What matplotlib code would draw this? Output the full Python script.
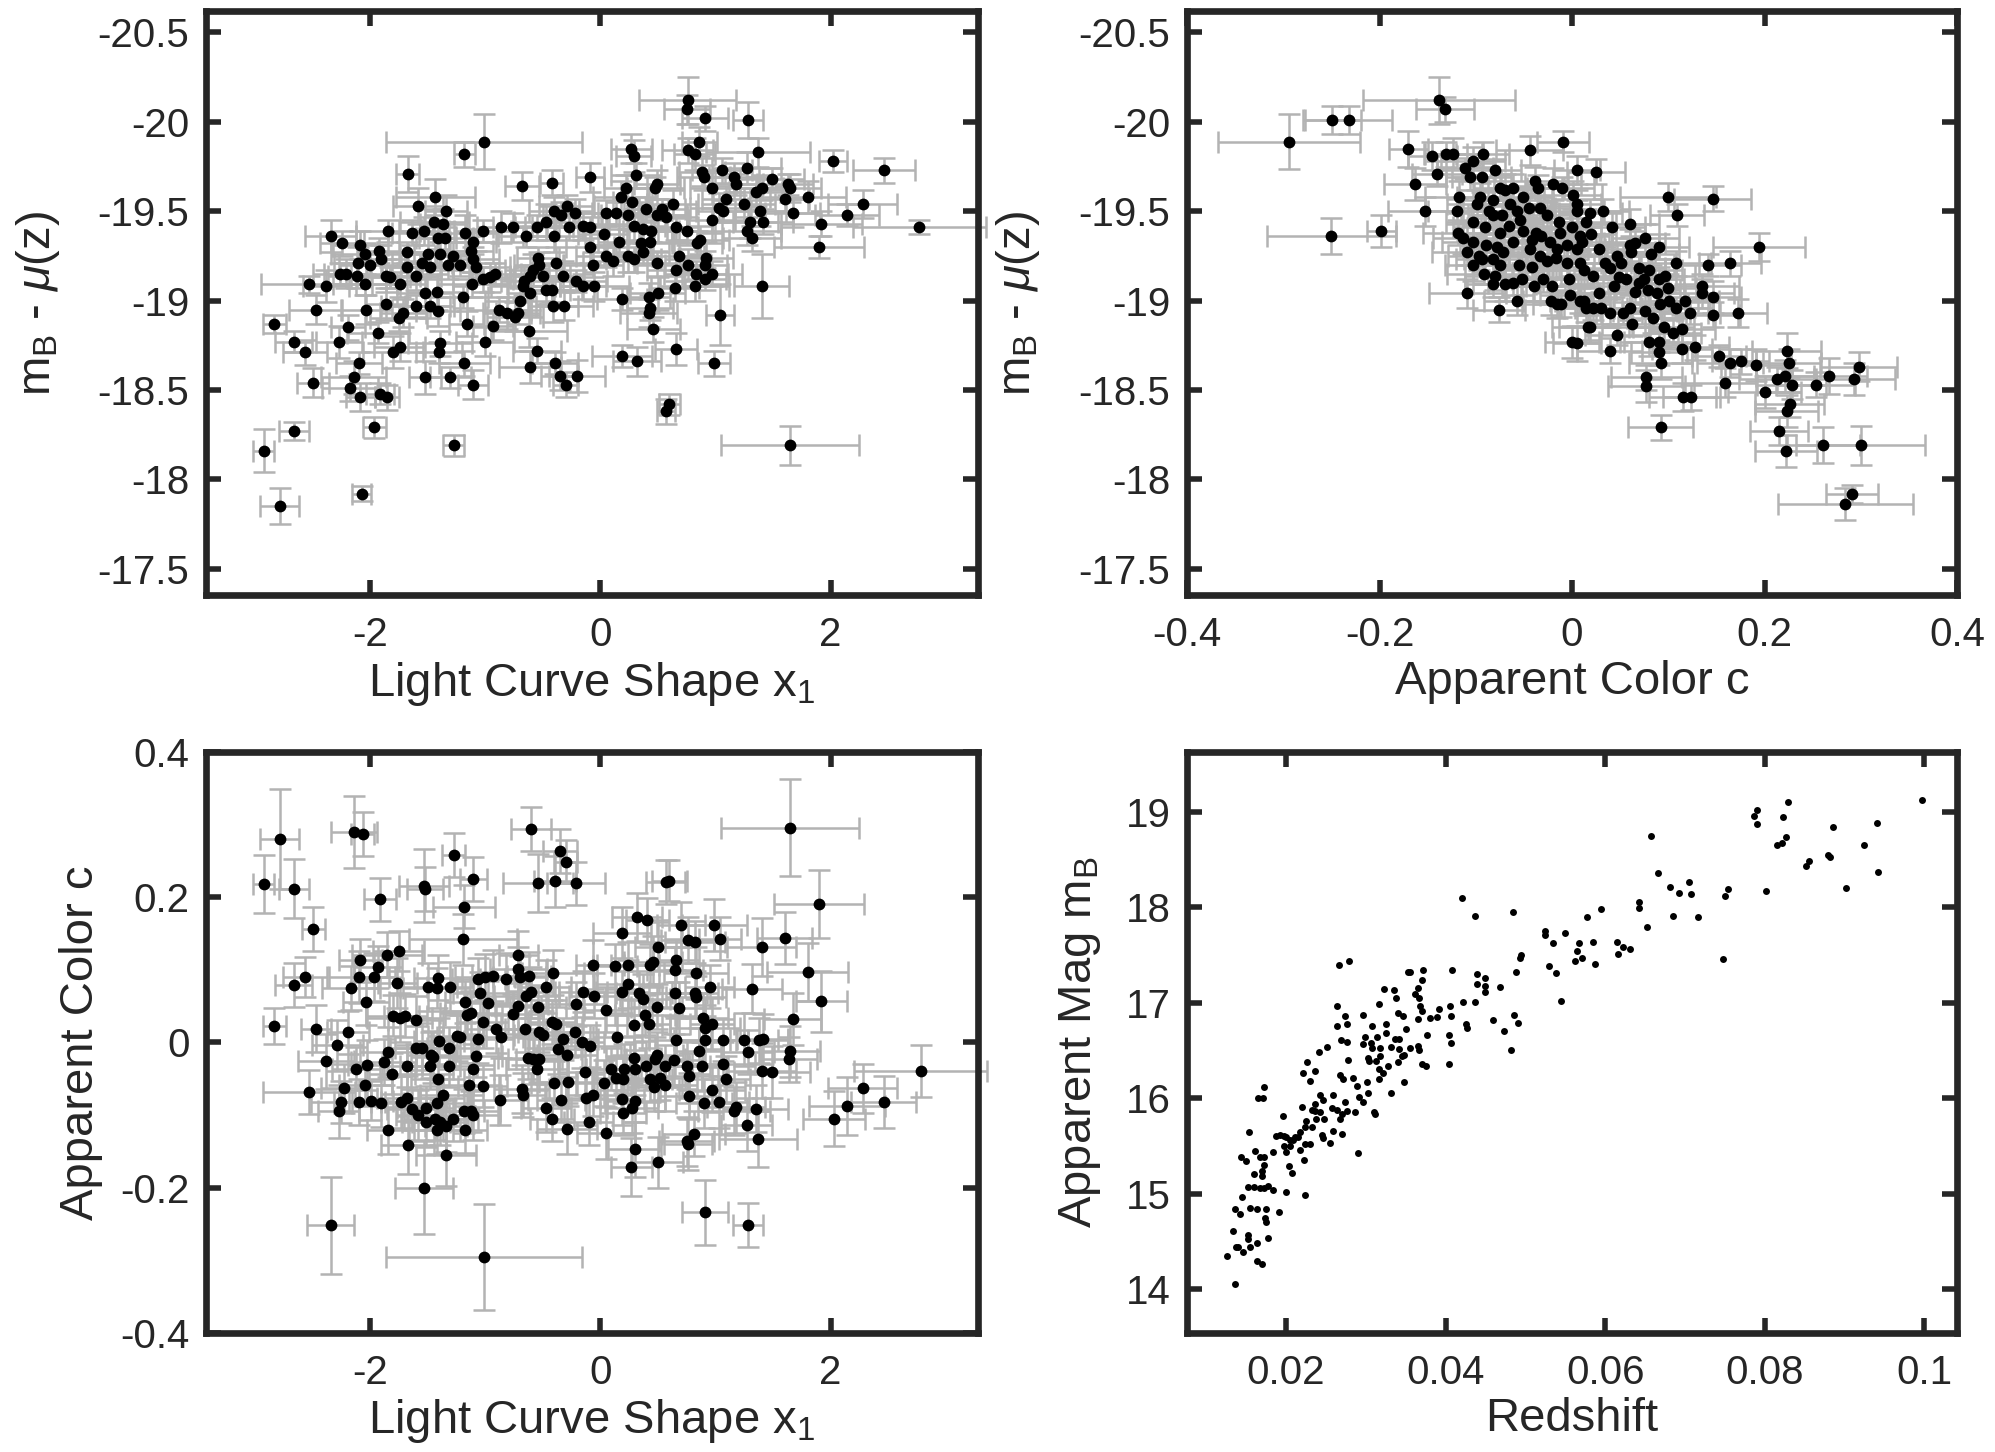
import matplotlib
matplotlib.use("Agg")
import matplotlib.pyplot as plt

plt.rcParams['font.family'] = ['Liberation Sans', 'DejaVu Sans']
plt.rcParams['mathtext.fontset'] = 'custom'
plt.rcParams['mathtext.rm'] = 'Liberation Sans'
plt.rcParams['mathtext.it'] = 'Liberation Sans:italic'
plt.rcParams['axes.unicode_minus'] = False

# ---- x1 vs Hubble residual magnitude ----
x1_a = [
    -1.01, -1.18, -1.67, -1.43, -0.68, -0.42, -0.09, -1.58, -1.34, -1.44,
    -1.36, -1.41, -1.35, -1.63, -1.53, -1.84, -2.34, -2.24, -2.08, -2.04,
    -1.92, -1.90, -1.68, -1.49, -1.39, -1.28, -1.17, -1.10, -1.02, -1.12,
    -1.10, -1.08, -1.22, -1.32, -1.48, -1.55, -1.68, -2.10, -2.00, -2.26,
    -2.21, -2.11, -1.86, -1.82, -1.60, -1.74, -2.04, -2.53, -2.38, -1.02,
    -0.96, -0.91, -1.11, -0.86, -0.76, -0.64, -0.55, -0.47, -0.40, -0.34,
    -0.29, -0.22, -0.40, -0.27, -0.15, -0.09, -0.09, -0.06, -0.05, -0.54,
    -0.53, -0.58, -0.61, -0.66, -0.67, -0.61, -0.50, -0.47, -0.42, -0.38,
    -0.32, -0.21, -0.15, -0.41, -0.31, -0.70, -0.71, -0.74, -0.81, -0.88,
    -0.93, -0.62, -1.16, -1.19, -1.41, -1.42, -1.48, -1.52, -1.60, -1.71,
    -1.75, -1.86, -2.03, -1.93, -2.19, -2.27, -2.47, -2.83, -2.66, -2.56,
    -2.49, -2.09, -2.14, -2.17, -2.08, -1.91, -1.85, -1.80, -1.74, -1.39,
    -1.40, -1.00, -1.18, -1.52, -1.30, -1.10, -0.55, -0.61, -0.39, -0.35,
    -0.30, -0.20, -1.96, -2.66, -2.92, -1.27, -2.07, -2.78,
    0.76, 0.75, 0.91, 1.28, 0.86, 0.76, 0.82, 1.37, 2.02, 2.46,
    0.27, 0.29, 0.31, 0.49, 0.48, 0.22, 0.18, 0.28, 0.05, 0.14,
    0.24, 0.40, 0.49, 0.54, 0.63, 0.57, 0.29, 0.37, 0.44, 0.66,
    0.75, 0.03, 0.16, 0.35, 0.43, 0.37, 0.05, 0.11, 0.24, 0.29,
    0.49, 0.68, 0.66, 0.76, 0.83, 0.91, 0.92, 0.97, 0.91, 0.82,
    0.65, 0.50, 0.42, 0.19, 0.43, 0.42, 0.46, 0.66, 0.19, 0.32,
    0.99, 1.04, 1.40, 0.60, 0.57, 1.65, 0.88, 0.90, 0.97, 1.06,
    1.16, 1.18, 1.27, 1.09, 1.03, 1.07, 0.97, 1.25, 1.35, 1.40,
    1.49, 1.39, 1.41, 1.30, 1.27, 1.32, 1.63, 1.65, 1.60, 1.80,
    1.67, 1.92, 2.14, 2.28, 2.77, 1.90, 0.84, 0.87,
]
mres_a = [
    -19.89, -19.82, -19.71, -19.58, -19.64, -19.66, -19.69, -19.53, -19.50, -19.44,
    -19.43, -19.35, -19.35, -19.38, -19.39, -19.39, -19.36, -19.32, -19.31, -19.26,
    -19.28, -19.23, -19.27, -19.26, -19.26, -19.25, -19.38, -19.33, -19.39, -19.28,
    -19.23, -19.19, -19.20, -19.20, -19.19, -19.21, -19.19, -19.21, -19.20, -19.15,
    -19.15, -19.14, -19.14, -19.13, -19.14, -19.09, -19.09, -19.09, -19.08, -19.12,
    -19.13, -19.15, -19.09, -19.41, -19.41, -19.36, -19.41, -19.44, -19.50, -19.48,
    -19.53, -19.49, -19.36, -19.41, -19.42, -19.41, -19.30, -19.20, -19.08, -19.24,
    -19.20, -19.17, -19.14, -19.11, -19.08, -19.04, -19.14, -19.06, -19.06, -19.21,
    -19.14, -19.11, -19.08, -18.97, -18.97, -19.00, -18.93, -18.91, -18.93, -18.95,
    -18.86, -18.83, -18.87, -19.02, -18.94, -19.05, -18.97, -19.04, -18.97, -18.93,
    -18.90, -18.98, -18.95, -18.82, -18.85, -18.77, -18.95, -18.87, -18.77, -18.71,
    -18.54, -18.65, -18.57, -18.51, -18.46, -18.48, -18.46, -18.71, -18.74, -18.76,
    -18.71, -18.77, -18.65, -18.57, -18.57, -18.53, -18.72, -18.63, -18.65, -18.58,
    -18.53, -18.58, -18.29, -18.27, -18.16, -18.19, -17.92, -17.85,
    -20.12, -20.07, -20.02, -20.01, -19.89, -19.84, -19.82, -19.83, -19.78, -19.73,
    -19.85, -19.81, -19.70, -19.65, -19.63, -19.63, -19.58, -19.55, -19.49, -19.49,
    -19.48, -19.51, -19.48, -19.51, -19.54, -19.47, -19.42, -19.40, -19.39, -19.41,
    -19.39, -19.37, -19.33, -19.32, -19.33, -19.27, -19.25, -19.22, -19.25, -19.23,
    -19.21, -19.25, -19.17, -19.20, -19.15, -19.20, -19.24, -19.15, -19.12, -19.08,
    -19.07, -19.04, -19.02, -19.01, -18.96, -18.93, -18.84, -18.73, -18.69, -18.66,
    -18.65, -18.92, -19.08, -18.42, -18.38, -18.19, -19.72, -19.69, -19.63, -19.73,
    -19.69, -19.65, -19.74, -19.57, -19.52, -19.50, -19.45, -19.54, -19.61, -19.63,
    -19.68, -19.50, -19.44, -19.44, -19.39, -19.35, -19.65, -19.63, -19.57, -19.58,
    -19.49, -19.43, -19.48, -19.54, -19.41, -19.30, -19.32, -19.34,
]
x1_a_err = [
    0.85, 0.09, 0.10, 0.34, 0.15, 0.10, 0.12, 0.22, 0.18, 0.30,
    0.20, 0.16, 0.25, 0.18, 0.22, 0.28, 0.22, 0.19, 0.24, 0.30,
    0.17, 0.21, 0.26, 0.18, 0.23, 0.15, 0.28, 0.20, 0.25, 0.19,
    0.22, 0.30, 0.17, 0.24, 0.20, 0.26, 0.18, 0.21, 0.27, 0.23,
    0.19, 0.25, 0.30, 0.17, 0.22, 0.24, 0.28, 0.41, 0.20, 0.26,
    0.18, 0.22, 0.30, 0.21, 0.17, 0.25, 0.19, 0.28, 0.22, 0.16,
    0.24, 0.20, 0.27, 0.19, 0.23, 0.15, 0.21, 0.26, 0.30, 0.18,
    0.22, 0.25, 0.17, 0.20, 0.28, 0.19, 0.24, 0.21, 0.26, 0.23,
    0.18, 0.27, 0.20, 0.22, 0.25, 0.30, 0.19, 0.24, 0.21, 0.28,
    0.17, 0.33, 0.15, 0.22, 0.19, 0.26, 0.21, 0.24, 0.30, 0.20,
    0.25, 0.18, 0.22, 0.27, 0.15, 0.20, 0.23, 0.10, 0.16, 0.19,
    0.14, 0.20, 0.28, 0.24, 0.13, 0.12, 0.10, 0.26, 0.22, 0.28,
    0.20, 0.25, 0.22, 0.14, 0.18, 0.13, 0.21, 0.27, 0.20, 0.16,
    0.11, 0.24, 0.10, 0.13, 0.09, 0.09, 0.08, 0.17,
    0.42, 0.20, 0.20, 0.13, 0.15, 0.22, 0.18, 0.45, 0.12, 0.27,
    0.18, 0.15, 0.22, 0.20, 0.25, 0.19, 0.24, 0.17, 0.28, 0.21,
    0.23, 0.19, 0.26, 0.20, 0.22, 0.18, 0.27, 0.21, 0.24, 0.19,
    0.25, 0.22, 0.18, 0.29, 0.20, 0.23, 0.26, 0.19, 0.21, 0.24,
    0.17, 0.22, 0.25, 0.20, 0.28, 0.19, 0.23, 0.26, 0.18, 0.30,
    0.21, 0.24, 0.19, 0.22, 0.20, 0.25, 0.23, 0.18, 0.26, 0.21,
    0.14, 0.12, 0.24, 0.09, 0.08, 0.60, 0.20, 0.23, 0.19, 0.26,
    0.22, 0.18, 0.30, 0.21, 0.25, 0.24, 0.20, 0.27, 0.23, 0.19,
    0.28, 0.22, 0.26, 0.24, 0.30, 0.25, 0.22, 0.27, 0.21, 0.33,
    0.24, 0.35, 0.28, 0.30, 0.58, 0.39, 0.22, 0.25,
]
mres_a_err = [
    0.155, 0.07, 0.10, 0.10, 0.08, 0.07, 0.08, 0.10, 0.09, 0.07,
    0.08, 0.06, 0.09, 0.07, 0.08, 0.06, 0.09, 0.07, 0.08, 0.06,
    0.07, 0.08, 0.06, 0.09, 0.07, 0.08, 0.10, 0.07, 0.06, 0.08,
    0.07, 0.09, 0.06, 0.08, 0.07, 0.06, 0.08, 0.09, 0.07, 0.06,
    0.08, 0.07, 0.09, 0.06, 0.08, 0.07, 0.06, 0.05, 0.09, 0.07,
    0.08, 0.06, 0.07, 0.09, 0.08, 0.06, 0.07, 0.10, 0.08, 0.07,
    0.06, 0.08, 0.09, 0.07, 0.08, 0.06, 0.09, 0.07, 0.08, 0.06,
    0.07, 0.09, 0.06, 0.08, 0.07, 0.09, 0.06, 0.08, 0.07, 0.09,
    0.08, 0.06, 0.07, 0.09, 0.08, 0.07, 0.06, 0.08, 0.09, 0.07,
    0.08, 0.09, 0.07, 0.06, 0.08, 0.10, 0.07, 0.09, 0.06, 0.08,
    0.07, 0.09, 0.08, 0.06, 0.07, 0.09, 0.08, 0.05, 0.06, 0.07,
    0.08, 0.06, 0.09, 0.07, 0.08, 0.06, 0.07, 0.09, 0.08, 0.07,
    0.06, 0.08, 0.07, 0.09, 0.06, 0.08, 0.07, 0.09, 0.06, 0.08,
    0.07, 0.09, 0.06, 0.05, 0.12, 0.06, 0.04, 0.10,
    0.13, 0.08, 0.07, 0.10, 0.08, 0.07, 0.09, 0.08, 0.06, 0.07,
    0.08, 0.09, 0.07, 0.08, 0.06, 0.07, 0.09, 0.08, 0.07, 0.06,
    0.08, 0.07, 0.09, 0.06, 0.08, 0.07, 0.09, 0.08, 0.06, 0.07,
    0.08, 0.06, 0.07, 0.09, 0.08, 0.07, 0.06, 0.08, 0.09, 0.07,
    0.07, 0.08, 0.06, 0.09, 0.07, 0.08, 0.09, 0.07, 0.06, 0.08,
    0.07, 0.09, 0.08, 0.06, 0.07, 0.08, 0.07, 0.09, 0.06, 0.08,
    0.07, 0.17, 0.18, 0.06, 0.07, 0.11, 0.08, 0.07, 0.09, 0.07,
    0.08, 0.06, 0.09, 0.07, 0.08, 0.06, 0.07, 0.09, 0.08, 0.07,
    0.06, 0.08, 0.07, 0.09, 0.08, 0.07, 0.06, 0.08, 0.07, 0.09,
    0.08, 0.07, 0.06, 0.08, 0.04, 0.06, 0.07, 0.08,
]

# ---- colour vs Hubble residual magnitude ----
c_b = [
    -0.138, -0.132, -0.249, -0.232, -0.294, -0.250, -0.198, -0.170, -0.145, -0.131,
    -0.124, -0.093, -0.044, -0.009, 0.005, -0.163, -0.140, -0.153, -0.111, -0.103,
    -0.106, -0.094, -0.080, -0.117, -0.120, -0.096, -0.082, -0.075, -0.070, -0.061,
    -0.051, -0.039, -0.035, -0.020, -0.010, 0.005, -0.118, -0.113, -0.103, -0.090,
    -0.082, -0.073, -0.064, -0.057, -0.045, -0.033, -0.026, -0.014, 0.000, 0.005,
    -0.109, -0.103, -0.097, -0.089, -0.078, -0.082, -0.072, -0.092, -0.080, -0.082,
    -0.070, -0.061, -0.055, -0.061, -0.051, -0.042, -0.037, -0.032, -0.023, -0.013,
    -0.042, -0.033, -0.026, -0.017, -0.005, 0.005, -0.030, -0.021, -0.016, -0.011,
    -0.109, -0.076, 0.000, 0.005, 0.017, 0.015, 0.008, 0.008, 0.008,
    0.025, 0.100, 0.146, 0.109, 0.019, 0.032, 0.041, 0.060, 0.020, 0.010,
    0.012, 0.022, 0.034, 0.039, 0.047, 0.051, 0.049, 0.056, 0.061, 0.065,
    0.076, 0.082, 0.090, 0.070, 0.080, 0.070, 0.065, 0.079, 0.090, 0.097,
    0.108, 0.100, 0.028, 0.030, 0.022, 0.039, 0.053, 0.060, 0.076, 0.091,
    0.101, 0.108, 0.084, 0.095, 0.105, 0.114, 0.123, 0.135, 0.135, 0.146,
    0.146, 0.172, 0.141, 0.164, 0.194, 0.019, 0.039, 0.080, 0.090, 0.090,
    0.092, 0.114, 0.128, 0.153, 0.164, 0.175, 0.191, 0.159, 0.077, 0.077,
    0.115, 0.124, 0.200, 0.223, 0.225, 0.213, 0.221, 0.228, 0.253, 0.267,
    0.293, 0.298, 0.226, 0.223, 0.215, 0.222, 0.261, 0.300, 0.092, 0.291,
    0.284,
    -0.099, -0.086, -0.075, -0.066, -0.054, -0.044, -0.052, -0.040, -0.005, -0.003,
    -0.022, -0.103, -0.094, -0.057, -0.002, -0.075, -0.016, 0.001,
    0.014, 0.028, 0.044, 0.060, 0.075, 0.088, 0.117, 0.062, 0.012, 0.047,
]
mres_b = [
    -20.12, -20.07, -20.01, -20.01, -19.89, -19.36, -19.39, -19.85, -19.81, -19.82,
    -19.82, -19.82, -19.84, -19.89, -19.73, -19.65, -19.71, -19.50, -19.74, -19.78,
    -19.69, -19.69, -19.73, -19.58, -19.50, -19.58, -19.56, -19.63, -19.62, -19.63,
    -19.58, -19.67, -19.63, -19.65, -19.63, -19.54, -19.38, -19.35, -19.44, -19.41,
    -19.48, -19.48, -19.54, -19.50, -19.52, -19.52, -19.48, -19.44, -19.41, -19.50,
    -19.27, -19.20, -19.25, -19.31, -19.30, -19.23, -19.27, -19.15, -19.14, -19.09,
    -19.09, -19.10, -19.20, -19.33, -19.39, -19.34, -19.38, -19.36, -19.33, -19.38,
    -19.19, -19.25, -19.22, -19.24, -19.21, -19.29, -19.12, -19.08, -18.98, -18.98,
    -19.04, -18.95, -18.77, -18.76, -18.85, -18.96, -19.21, -19.36, -19.00,
    -19.72, -19.58, -19.57, -19.48, -19.49, -19.50, -19.41, -19.43, -19.37, -19.33,
    -19.17, -19.14, -19.21, -19.18, -19.25, -19.21, -19.13, -19.12, -19.27, -19.32,
    -19.35, -19.26, -19.30, -19.18, -19.17, -19.10, -19.05, -19.06, -19.12, -19.14,
    -19.21, -19.07, -19.04, -18.96, -18.96, -18.93, -18.93, -18.96, -18.94, -18.98,
    -19.00, -18.96, -18.90, -18.85, -18.82, -18.84, -18.93, -19.08, -19.04, -19.02,
    -18.92, -18.93, -19.20, -19.21, -19.30, -18.85, -18.72, -18.77, -18.77, -18.71,
    -18.65, -18.73, -18.74, -18.69, -18.65, -18.66, -18.64, -18.54, -18.57, -18.52,
    -18.46, -18.46, -18.49, -18.72, -18.65, -18.56, -18.58, -18.53, -18.53, -18.58,
    -18.56, -18.63, -18.42, -18.38, -18.27, -18.16, -18.19, -18.19, -18.29, -17.92,
    -17.86,
    -19.54, -19.50, -19.38, -19.42, -19.45, -19.29, -19.12, -19.08, -19.31, -19.12,
    -19.00, -19.33, -19.23, -19.00, -19.03, -19.20, -19.29, -19.59,
    -19.44, -19.29, -19.08, -19.31, -19.12, -19.04, -19.00, -18.87, -19.00, -18.81,
]
c_b_err = [
    0.079, 0.030, 0.030, 0.045, 0.074, 0.067, 0.015, 0.020, 0.025, 0.022,
    0.030, 0.028, 0.035, 0.027, 0.024, 0.032, 0.026, 0.038, 0.029, 0.033,
    0.025, 0.031, 0.027, 0.036, 0.030, 0.024, 0.034, 0.028, 0.032, 0.026,
    0.030, 0.035, 0.027, 0.029, 0.033, 0.025, 0.037, 0.031, 0.028, 0.034,
    0.026, 0.032, 0.029, 0.035, 0.027, 0.031, 0.024, 0.033, 0.030, 0.028,
    0.036, 0.029, 0.032, 0.027, 0.034, 0.030, 0.025, 0.038, 0.031, 0.029,
    0.033, 0.026, 0.035, 0.030, 0.028, 0.032, 0.027, 0.034, 0.029, 0.031,
    0.028, 0.033, 0.030, 0.026, 0.035, 0.029, 0.032, 0.027, 0.036, 0.030,
    0.040, 0.027, 0.028, 0.025, 0.031, 0.029, 0.033, 0.030, 0.026,
    0.030, 0.050, 0.040, 0.028, 0.033, 0.027, 0.035, 0.030, 0.026, 0.032,
    0.029, 0.034, 0.027, 0.031, 0.036, 0.028, 0.033, 0.030, 0.025, 0.032,
    0.035, 0.029, 0.031, 0.027, 0.034, 0.030, 0.028, 0.033, 0.026, 0.031,
    0.036, 0.029, 0.032, 0.027, 0.030, 0.034, 0.028, 0.031, 0.033, 0.029,
    0.030, 0.035, 0.027, 0.032, 0.029, 0.034, 0.031, 0.038, 0.033, 0.030,
    0.028, 0.031, 0.035, 0.032, 0.048, 0.040, 0.034, 0.030, 0.036, 0.029,
    0.033, 0.031, 0.035, 0.028, 0.034, 0.030, 0.036, 0.032, 0.037, 0.040,
    0.035, 0.030, 0.038, 0.036, 0.034, 0.040, 0.030, 0.036, 0.041, 0.039,
    0.042, 0.040, 0.036, 0.033, 0.030, 0.032, 0.038, 0.067, 0.034, 0.027,
    0.070,
    0.031, 0.027, 0.034, 0.029, 0.032, 0.036, 0.028, 0.033, 0.030, 0.035,
    0.029, 0.032, 0.027, 0.034, 0.031, 0.028, 0.033, 0.030,
    0.032, 0.029, 0.035, 0.030, 0.033, 0.028, 0.036, 0.031, 0.027, 0.034,
]
mres_b_err = [
    0.13, 0.07, 0.08, 0.08, 0.155, 0.10, 0.09, 0.10, 0.08, 0.07,
    0.09, 0.07, 0.08, 0.06, 0.08, 0.09, 0.07, 0.08, 0.06, 0.08,
    0.07, 0.08, 0.06, 0.09, 0.07, 0.08, 0.06, 0.07, 0.09, 0.08,
    0.06, 0.08, 0.07, 0.09, 0.06, 0.08, 0.07, 0.09, 0.08, 0.07,
    0.08, 0.06, 0.09, 0.07, 0.08, 0.06, 0.07, 0.09, 0.08, 0.06,
    0.07, 0.09, 0.08, 0.06, 0.07, 0.08, 0.09, 0.06, 0.08, 0.07,
    0.09, 0.07, 0.06, 0.08, 0.07, 0.09, 0.08, 0.06, 0.07, 0.08,
    0.06, 0.08, 0.09, 0.07, 0.08, 0.06, 0.07, 0.09, 0.08, 0.07,
    0.08, 0.07, 0.09, 0.10, 0.07, 0.08, 0.06, 0.08, 0.07,
    0.07, 0.08, 0.07, 0.06, 0.08, 0.07, 0.09, 0.08, 0.06, 0.07,
    0.08, 0.07, 0.09, 0.06, 0.08, 0.07, 0.06, 0.08, 0.09, 0.07,
    0.08, 0.06, 0.07, 0.09, 0.08, 0.07, 0.06, 0.08, 0.07, 0.09,
    0.07, 0.08, 0.06, 0.09, 0.07, 0.08, 0.06, 0.07, 0.09, 0.08,
    0.07, 0.06, 0.08, 0.09, 0.07, 0.08, 0.06, 0.07, 0.08, 0.09,
    0.07, 0.08, 0.06, 0.07, 0.08, 0.09, 0.07, 0.08, 0.06, 0.07,
    0.09, 0.08, 0.07, 0.06, 0.08, 0.07, 0.09, 0.08, 0.07, 0.09,
    0.08, 0.07, 0.09, 0.10, 0.08, 0.07, 0.09, 0.08, 0.07, 0.10,
    0.09, 0.08, 0.07, 0.09, 0.08, 0.09, 0.10, 0.11, 0.07, 0.05,
    0.09,
    0.08, 0.07, 0.09, 0.06, 0.08, 0.07, 0.09, 0.08, 0.06, 0.07,
    0.08, 0.09, 0.07, 0.08, 0.06, 0.07, 0.09, 0.08,
    0.07, 0.08, 0.06, 0.09, 0.07, 0.08, 0.09, 0.07, 0.08, 0.06,
]

# ---- x1 vs colour ----
x1_c = [
    -2.78, -2.14, -2.06, -2.92, -2.66, -2.49, -1.91, -1.53, -1.52, -1.27,
    -1.10, -1.18, -1.19, -0.60, -0.35, -0.30, -0.54, -0.39, -0.21, -2.83,
    -2.66, -2.56, -2.47, -2.28, -2.19, -2.38, -2.53, -2.22, -2.25, -2.27,
    -2.09, -1.99, -1.90, -2.12, -2.02, -2.04, -1.88, -1.81, -1.84, -2.08,
    -2.09, -1.93, -1.96, -1.85, -1.75, -1.76, -2.16, -2.03, -1.80, -1.74,
    -1.69, -1.60, -1.68, -1.73, -1.68, -1.63, -1.58, -1.51, -1.51, -1.84,
    -1.67, -1.43, -1.42, -1.39, -1.34, -1.28, -1.34, -1.17, -1.12, -1.10,
    -1.18, -1.42, -1.36, -1.41, -1.48, -1.45, -1.31, -1.47, -1.60, -1.55,
    -1.40, -1.31, -1.24, -1.22, -1.06, -1.08, -1.10, -1.14, -1.02, -0.87,
    -1.16, -1.12, -1.02, -1.17, -1.49, -1.41, -1.42, -1.30, -1.06, -1.00,
    -0.93, -1.04, -0.97, -0.90, -0.86, -0.82, -0.76, -0.71, -0.71, -0.71,
    -0.70, -0.62, -0.64, -0.60, -0.54, -0.65, -0.63, -0.58, -0.53, -0.55,
    -0.68, -0.67, -0.47, -0.41, -0.53, -0.50, -0.42, -0.38, -0.32, -0.37,
    -0.29, -0.22, -0.21, -0.15, -0.06, -0.05, -0.16, -0.09, -0.13, -0.40,
    -0.28, -0.34, -0.12, -0.06, -0.47, -0.42, -0.29, -0.10, -1.53, -2.34,
    -1.01,
    1.65, 1.90, 0.57, 0.60, 0.32, 0.41, 0.19, 0.70, 0.99, 1.04,
    0.76, 0.82, 0.50, 1.40, 1.60, 0.13, 0.24, 0.43, 0.46, 0.66,
    0.65, 0.83, 1.80, 0.95, 1.32, 1.92, 1.67, 0.05, 0.19, 0.24,
    0.34, 0.37, 0.49, 0.39, 0.42, 0.29, 0.15, 0.65, 0.68, 0.82,
    0.83, 0.89, 0.91, 0.97, 0.66, 0.91, 1.07, 1.25, 1.38, 1.41,
    1.28, 0.86, 1.65, 1.64, 0.09, 0.21, 0.14, 0.20, 0.30, 0.29,
    0.40, 0.48, 0.49, 0.56, 0.64, 0.43, 0.47, 0.52, 0.56, 0.75,
    0.77, 0.88, 1.07, 1.09, 1.40, 1.49, 0.03, 0.19, 0.30, 0.28,
    0.20, 0.05, 0.30, 0.27, 0.50, 0.77, 0.90, 0.97, 1.03, 1.16,
    1.18, 1.35, 1.27, 1.37, 0.75, 0.76, 0.81, 0.91, 1.28, 2.78,
    2.28, 2.46, 2.14, 2.03,
]
c_c = [
    0.280, 0.290, 0.287, 0.218, 0.212, 0.156, 0.197, 0.216, 0.211, 0.258,
    0.225, 0.187, 0.142, 0.294, 0.264, 0.249, 0.220, 0.222, 0.219, 0.023,
    0.079, 0.090, 0.019, -0.004, 0.014, -0.026, -0.068, -0.063, -0.082, -0.095,
    -0.082, -0.080, -0.084, -0.036, -0.031, -0.059, -0.027, -0.043, -0.013, 0.113,
    0.090, 0.104, 0.090, 0.121, 0.126, 0.082, 0.075, 0.056, 0.037, 0.034,
    0.037, 0.031, -0.033, -0.082, -0.077, -0.092, -0.100, -0.090, -0.110, -0.121,
    -0.141, -0.105, -0.120, -0.110, -0.115, -0.106, -0.155, -0.120, -0.095, -0.100,
    -0.094, -0.084, -0.072, -0.051, -0.033, -0.020, -0.033, -0.017, -0.008, -0.008,
    0.002, -0.008, 0.009, 0.008, 0.005, -0.019, -0.037, -0.059, -0.060, -0.079,
    0.038, 0.041, 0.028, 0.056, 0.077, 0.089, 0.075, 0.077, 0.087, 0.090,
    0.092, 0.068, 0.054, 0.018, 0.008, 0.087, 0.039, 0.050, 0.120, 0.101,
    0.090, 0.092, 0.064, 0.069, 0.049, 0.019, -0.022, -0.023, -0.023, -0.036,
    -0.064, -0.072, 0.077, 0.096, 0.015, 0.010, 0.028, 0.026, 0.005, -0.009,
    -0.017, 0.015, 0.053, 0.070, 0.107, 0.064, 0.000, -0.005, -0.041, -0.056,
    -0.054, -0.079, -0.077, -0.072, -0.090, -0.106, -0.119, -0.109, -0.200, -0.252,
    -0.296,
    0.296, 0.191, 0.221, 0.223, 0.173, 0.169, 0.151, 0.162, 0.162, 0.143,
    0.141, 0.138, 0.132, 0.132, 0.144, 0.105, 0.106, 0.107, 0.111, 0.113,
    0.100, 0.096, 0.097, 0.077, 0.074, 0.057, 0.032, 0.045, 0.070, 0.080,
    0.068, 0.060, 0.049, 0.038, 0.026, 0.024, 0.008, 0.068, 0.047, 0.068,
    0.063, 0.034, 0.020, 0.026, 0.004, 0.003, 0.003, 0.004, 0.003, 0.005,
    -0.013, -0.012, -0.012, -0.023, -0.037, -0.036, -0.049, -0.050, -0.036, -0.022,
    -0.032, -0.023, -0.017, -0.032, -0.024, -0.051, -0.061, -0.049, -0.058, -0.032,
    -0.046, -0.033, -0.029, -0.051, -0.039, -0.041, -0.056, -0.078, -0.080, -0.090,
    -0.097, -0.125, -0.147, -0.172, -0.165, -0.074, -0.084, -0.065, -0.082, -0.095,
    -0.089, -0.091, -0.113, -0.133, -0.136, -0.140, -0.126, -0.234, -0.251, -0.039,
    -0.063, -0.082, -0.087, -0.105,
]
x1_c_err = [
    0.17, 0.20, 0.10, 0.09, 0.13, 0.10, 0.14, 0.22, 0.16, 0.10,
    0.12, 0.27, 0.47, 0.17, 0.15, 0.10, 0.30, 0.18, 0.25, 0.10,
    0.16, 0.19, 0.13, 0.22, 0.18, 0.24, 0.40, 0.20, 0.26, 0.18,
    0.22, 0.19, 0.25, 0.21, 0.17, 0.23, 0.28, 0.20, 0.24, 0.19,
    0.26, 0.21, 0.18, 0.30, 0.22, 0.17, 0.25, 0.20, 0.23, 0.28,
    0.19, 0.24, 0.21, 0.17, 0.26, 0.22, 0.19, 0.25, 0.21, 0.18,
    0.23, 0.27, 0.20, 0.24, 0.18, 0.22, 0.26, 0.19, 0.25, 0.21,
    0.17, 0.28, 0.20, 0.23, 0.26, 0.19, 0.24, 0.21, 0.18, 0.27,
    0.22, 0.19, 0.25, 0.20, 0.30, 0.23, 0.18, 0.26, 0.21, 0.24,
    0.19, 0.27, 0.22, 0.18, 0.25, 0.21, 0.29, 0.20, 0.23, 0.26,
    0.18, 0.24, 0.21, 0.27, 0.19, 0.22, 0.26, 0.20, 0.17, 0.25,
    0.23, 0.19, 0.28, 0.21, 0.24, 0.18, 0.26, 0.22, 0.20, 0.27,
    0.24, 0.19, 0.22, 0.27, 0.18, 0.25, 0.21, 0.23, 0.30, 0.20,
    0.26, 0.18, 0.24, 0.21, 0.15, 0.22, 0.19, 0.27, 0.23, 0.20,
    0.25, 0.21, 0.18, 0.24, 0.22, 0.19, 0.26, 0.21, 0.25, 0.20,
    0.85,
    0.60, 0.39, 0.17, 0.15, 0.22, 0.19, 0.25, 0.21, 0.28, 0.18,
    0.23, 0.26, 0.20, 0.30, 0.24, 0.19, 0.27, 0.22, 0.25, 0.20,
    0.24, 0.28, 0.35, 0.21, 0.26, 0.22, 0.25, 0.19, 0.23, 0.27,
    0.20, 0.24, 0.22, 0.26, 0.19, 0.25, 0.21, 0.28, 0.23, 0.20,
    0.26, 0.22, 0.30, 0.19, 0.24, 0.27, 0.21, 0.29, 0.25, 0.22,
    0.23, 0.20, 0.26, 0.24, 0.21, 0.25, 0.19, 0.27, 0.22, 0.24,
    0.20, 0.26, 0.23, 0.21, 0.25, 0.19, 0.24, 0.22, 0.28, 0.20,
    0.25, 0.23, 0.27, 0.21, 0.30, 0.33, 0.24, 0.19, 0.26, 0.22,
    0.20, 0.25, 0.23, 0.18, 0.22, 0.27, 0.24, 0.29, 0.26, 0.31,
    0.25, 0.28, 0.22, 0.34, 0.24, 0.21, 0.27, 0.20, 0.13, 0.58,
    0.30, 0.28, 0.33, 0.27,
]
c_c_err = [
    0.069, 0.050, 0.030, 0.040, 0.040, 0.030, 0.030, 0.050, 0.030, 0.030,
    0.030, 0.030, 0.035, 0.030, 0.030, 0.030, 0.040, 0.035, 0.030, 0.025,
    0.030, 0.028, 0.032, 0.035, 0.030, 0.038, 0.030, 0.034, 0.029, 0.036,
    0.031, 0.027, 0.033, 0.030, 0.035, 0.029, 0.032, 0.028, 0.034, 0.030,
    0.036, 0.029, 0.033, 0.031, 0.027, 0.035, 0.030, 0.032, 0.028, 0.034,
    0.030, 0.033, 0.029, 0.036, 0.031, 0.028, 0.035, 0.030, 0.034, 0.032,
    0.040, 0.029, 0.033, 0.031, 0.036, 0.030, 0.042, 0.032, 0.028, 0.035,
    0.030, 0.034, 0.029, 0.033, 0.031, 0.036, 0.028, 0.032, 0.030, 0.035,
    0.031, 0.029, 0.034, 0.030, 0.033, 0.028, 0.035, 0.031, 0.029, 0.034,
    0.032, 0.030, 0.036, 0.029, 0.033, 0.031, 0.028, 0.034, 0.030, 0.032,
    0.035, 0.029, 0.031, 0.033, 0.030, 0.036, 0.028, 0.032, 0.034, 0.030,
    0.029, 0.033, 0.031, 0.035, 0.030, 0.032, 0.028, 0.034, 0.031, 0.029,
    0.033, 0.030, 0.036, 0.031, 0.028, 0.034, 0.030, 0.032, 0.029, 0.035,
    0.031, 0.033, 0.030, 0.028, 0.034, 0.031, 0.035, 0.029, 0.032, 0.030,
    0.034, 0.031, 0.036, 0.029, 0.033, 0.030, 0.035, 0.032, 0.064, 0.067,
    0.073,
    0.067, 0.047, 0.030, 0.028, 0.033, 0.030, 0.035, 0.031, 0.036, 0.030,
    0.032, 0.029, 0.034, 0.040, 0.036, 0.031, 0.033, 0.029, 0.035, 0.030,
    0.032, 0.036, 0.040, 0.030, 0.034, 0.042, 0.036, 0.031, 0.029, 0.033,
    0.030, 0.034, 0.031, 0.028, 0.033, 0.035, 0.030, 0.032, 0.036, 0.031,
    0.029, 0.034, 0.031, 0.035, 0.030, 0.033, 0.029, 0.036, 0.031, 0.034,
    0.030, 0.032, 0.035, 0.031, 0.029, 0.034, 0.030, 0.033, 0.036, 0.031,
    0.034, 0.030, 0.032, 0.029, 0.035, 0.031, 0.033, 0.030, 0.036, 0.032,
    0.031, 0.034, 0.030, 0.033, 0.038, 0.036, 0.032, 0.035, 0.030, 0.034,
    0.031, 0.036, 0.038, 0.040, 0.035, 0.032, 0.034, 0.031, 0.036, 0.033,
    0.035, 0.032, 0.037, 0.038, 0.034, 0.036, 0.031, 0.045, 0.030, 0.036,
    0.034, 0.036, 0.040, 0.038,
]

# ---- redshift vs apparent peak magnitude ----
z_d = [
    0.0420, 0.0437, 0.0484, 0.0525, 0.0525, 0.0534, 0.0550, 0.0567, 0.0565, 0.0562,
    0.0530, 0.0538, 0.0545, 0.0494, 0.0493, 0.0488, 0.0468, 0.0440, 0.0450, 0.0440,
    0.0450, 0.0450, 0.0437, 0.0459, 0.0473, 0.0486, 0.0491, 0.0482, 0.0408, 0.0422,
    0.0425, 0.0427, 0.0406, 0.0407, 0.0404, 0.0407, 0.0404, 0.0392, 0.0389, 0.0380,
    0.0372, 0.0371, 0.0353, 0.0356, 0.0366, 0.0362, 0.0367, 0.0368, 0.0370, 0.0366,
    0.0377, 0.0365, 0.0367, 0.0356, 0.0371, 0.0376, 0.0347, 0.0350, 0.0341, 0.0338,
    0.0335, 0.0323, 0.0316, 0.0308, 0.0325, 0.0325, 0.0336, 0.0332, 0.0342, 0.0342,
    0.0345, 0.0348, 0.0340, 0.0328, 0.0318, 0.0314, 0.0308, 0.0299, 0.0296, 0.0306,
    0.0303, 0.0304, 0.0313, 0.0318, 0.0316, 0.0321, 0.0316, 0.0297, 0.0274, 0.0276,
    0.0264, 0.0269, 0.0277, 0.0278, 0.0264, 0.0266, 0.0279, 0.0251, 0.0242, 0.0226,
    0.0221, 0.0236, 0.0230, 0.0268, 0.0272, 0.0284, 0.0289, 0.0301, 0.0292, 0.0303,
    0.0332, 0.0348, 0.0310, 0.0311, 0.0297, 0.0286, 0.0274, 0.0276, 0.0259, 0.0258,
    0.0264, 0.0270, 0.0268, 0.0259, 0.0270, 0.0255, 0.0246, 0.0245, 0.0248, 0.0243,
    0.0246, 0.0236, 0.0236, 0.0243, 0.0232, 0.0238, 0.0225, 0.0224, 0.0232, 0.0220,
    0.0217, 0.0211, 0.0209, 0.0205, 0.0215, 0.0218, 0.0224, 0.0230, 0.0223, 0.0205,
    0.0197, 0.0200, 0.0200, 0.0204, 0.0207, 0.0197, 0.0192, 0.0187, 0.0200, 0.0224,
    0.0184, 0.0172, 0.0167, 0.0172, 0.0170, 0.0170, 0.0160, 0.0172, 0.0167, 0.0177,
    0.0184, 0.0160, 0.0153, 0.0154, 0.0161, 0.0144, 0.0150, 0.0165, 0.0171, 0.0172,
    0.0145, 0.0136, 0.0143, 0.0155, 0.0164, 0.0175, 0.0174, 0.0175, 0.0191, 0.0133,
    0.0152, 0.0152, 0.0177, 0.0164, 0.0155, 0.0140, 0.0137, 0.0146, 0.0126, 0.0164,
    0.0170, 0.0136, 0.0290, 0.0196,
    0.0997, 0.0829, 0.0790, 0.0786, 0.0790, 0.0823, 0.0826, 0.0821, 0.0815, 0.0886,
    0.0941, 0.0924, 0.0855, 0.0852, 0.0879, 0.0882, 0.0942, 0.0902, 0.0802, 0.0657,
    0.0666, 0.0681, 0.0705, 0.0692, 0.0708, 0.0685, 0.0716, 0.0653, 0.0643, 0.0643,
    0.0754, 0.0750, 0.0748, 0.0595, 0.0577, 0.0585, 0.0615, 0.0622, 0.0631, 0.0616,
    0.0571, 0.0587,
]
mb_d = [
    18.10, 17.91, 17.95, 17.75, 17.71, 17.63, 17.73, 17.63, 17.54, 17.44,
    17.39, 17.31, 17.02, 17.50, 17.47, 17.32, 17.17, 17.30, 17.26, 17.20,
    17.18, 17.11, 17.01, 16.82, 16.71, 16.87, 16.79, 16.51, 17.34, 17.01,
    16.78, 16.74, 16.97, 16.86, 16.66, 16.58, 16.36, 16.94, 16.85, 16.84,
    17.34, 17.24, 17.32, 17.32, 17.16, 17.09, 17.05, 16.97, 16.91, 16.83,
    16.66, 16.55, 16.51, 16.53, 16.36, 16.34, 16.86, 16.73, 16.89, 17.05,
    17.13, 17.15, 16.99, 16.76, 16.78, 16.68, 16.62, 16.54, 16.62, 16.52,
    16.44, 16.45, 16.38, 16.34, 16.53, 16.64, 16.53, 16.64, 16.57, 16.58,
    16.42, 16.39, 16.39, 16.44, 16.31, 16.27, 16.20, 16.87, 16.86, 16.78,
    16.76, 16.61, 16.59, 16.40, 16.97, 17.40, 17.44, 16.54, 16.48, 16.38,
    16.27, 16.29, 16.18, 16.24, 16.20, 16.21, 16.13, 16.17, 16.01, 16.05,
    16.06, 16.17, 15.86, 15.83, 15.96, 15.86, 15.96, 15.87, 16.03, 15.90,
    15.88, 15.84, 15.78, 15.66, 15.63, 15.53, 15.58, 15.61, 15.78, 16.03,
    15.98, 15.94, 15.87, 15.86, 15.88, 15.78, 15.76, 15.70, 15.70, 15.91,
    15.65, 15.59, 15.56, 15.56, 15.59, 15.46, 15.52, 15.52, 15.35, 15.50,
    15.50, 15.44, 15.59, 15.29, 15.22, 15.60, 15.61, 15.60, 15.02, 14.99,
    15.44, 15.38, 15.38, 15.30, 15.24, 15.18, 15.21, 15.06, 15.06, 15.08,
    15.04, 15.07, 15.07, 15.65, 15.45, 15.38, 15.34, 16.00, 16.00, 16.12,
    14.96, 14.84, 14.79, 14.85, 14.84, 14.84, 14.75, 14.70, 14.81, 14.61,
    14.57, 14.52, 14.54, 14.48, 14.44, 14.44, 14.44, 14.39, 14.35, 14.29,
    14.26, 14.05, 15.43, 15.81,
    19.13, 19.11, 19.02, 18.96, 18.88, 18.95, 18.74, 18.68, 18.65, 18.84,
    18.89, 18.66, 18.49, 18.43, 18.55, 18.53, 18.37, 18.20, 18.17, 18.75,
    18.36, 18.21, 18.27, 18.15, 18.14, 17.91, 17.90, 17.80, 18.06, 17.99,
    18.19, 18.12, 17.46, 17.98, 17.90, 17.64, 17.64, 17.59, 17.56, 17.51,
    17.47, 17.41,
]

INK = '#262626'
BAR = '#b3b3b3'
RES_TICKS = [-20.5, -20, -19.5, -19, -18.5, -18, -17.5]


def style_axes(ax):
    for s in ax.spines.values():
        s.set_linewidth(4.8)
        s.set_color(INK)
    ax.tick_params(direction='in', length=11, width=4, colors=INK,
                   labelsize=29, top=True, right=True)
    ax.tick_params(axis='x', pad=15)
    ax.tick_params(axis='y', pad=12)


def err_scatter(ax, x, y, xe, ye):
    # bars are left unclipped so the widest ones run slightly past the frame
    ax.errorbar(x, y, xerr=xe, yerr=ye, fmt='none', ecolor=BAR,
                elinewidth=1.8, capsize=8, capthick=1.8, zorder=1,
                clip_on=False)
    ax.plot(x, y, 'o', color='black', ms=8.5, mew=0, zorder=2)


def set_ticks(ax, xt, yt):
    ax.set_xticks(xt)
    ax.set_xticklabels(['%g' % v for v in xt])
    ax.set_yticks(yt)
    ax.set_yticklabels(['%g' % v for v in yt])


fig = plt.figure(figsize=(19.95, 14.52), dpi=100)
ax1 = fig.add_axes([0.1033, 0.5899, 0.3870, 0.4025])
ax2 = fig.add_axes([0.5950, 0.5899, 0.3860, 0.4025])
ax3 = fig.add_axes([0.1033, 0.0820, 0.3870, 0.4001])
ax4 = fig.add_axes([0.5950, 0.0820, 0.3860, 0.4001])

res_label = r'm$_{\mathrm{B}}$ - $\mu$(z)'
x1_label = r'Light Curve Shape x$_{\mathrm{1}}$'
LABEL_SIZE = 34
XLABEL_Y = -0.111

# top left
err_scatter(ax1, x1_a, mres_a, x1_a_err, mres_a_err)
ax1.set_xlim(-3.42, 3.28)
ax1.set_ylim(-17.35, -20.62)
set_ticks(ax1, [-2, 0, 2], RES_TICKS)
ax1.set_xlabel(x1_label, fontsize=LABEL_SIZE)
ax1.set_ylabel(res_label, fontsize=LABEL_SIZE)
ax1.yaxis.set_label_coords(-0.187, 0.5)

# top right
err_scatter(ax2, c_b, mres_b, c_b_err, mres_b_err)
ax2.set_xlim(-0.4, 0.4)
ax2.set_ylim(-17.35, -20.62)
set_ticks(ax2, [-0.4, -0.2, 0, 0.2, 0.4], RES_TICKS)
ax2.set_xlabel('Apparent Color c', fontsize=LABEL_SIZE)
ax2.set_ylabel(res_label, fontsize=LABEL_SIZE)
ax2.yaxis.set_label_coords(-0.188, 0.5)

# bottom left
err_scatter(ax3, x1_c, c_c, x1_c_err, c_c_err)
ax3.set_xlim(-3.42, 3.28)
ax3.set_ylim(-0.4, 0.4)
set_ticks(ax3, [-2, 0, 2], [-0.4, -0.2, 0, 0.2, 0.4])
ax3.set_xlabel(x1_label, fontsize=LABEL_SIZE)
ax3.set_ylabel('Apparent Color c', fontsize=LABEL_SIZE)
ax3.yaxis.set_label_coords(-0.133, 0.5)

# bottom right
ax4.plot(z_d, mb_d, 'o', color='black', ms=5, mew=0)
ax4.set_xlim(0.0076, 0.1041)
ax4.set_ylim(13.54, 19.63)
set_ticks(ax4, [0.02, 0.04, 0.06, 0.08, 0.1], [14, 15, 16, 17, 18, 19])
ax4.set_xlabel('Redshift', fontsize=LABEL_SIZE)
ax4.set_ylabel(r'Apparent Mag m$_{\mathrm{B}}$', fontsize=LABEL_SIZE)
ax4.yaxis.set_label_coords(-0.109, 0.5)

for ax in (ax1, ax2, ax3, ax4):
    style_axes(ax)
    ax.xaxis.set_label_coords(0.5, XLABEL_Y)
    for lab in ax.get_xticklabels() + ax.get_yticklabels():
        lab.set_color(INK)
    ax.xaxis.label.set_color(INK)
    ax.yaxis.label.set_color(INK)

fig.savefig('out.png', dpi=100)
